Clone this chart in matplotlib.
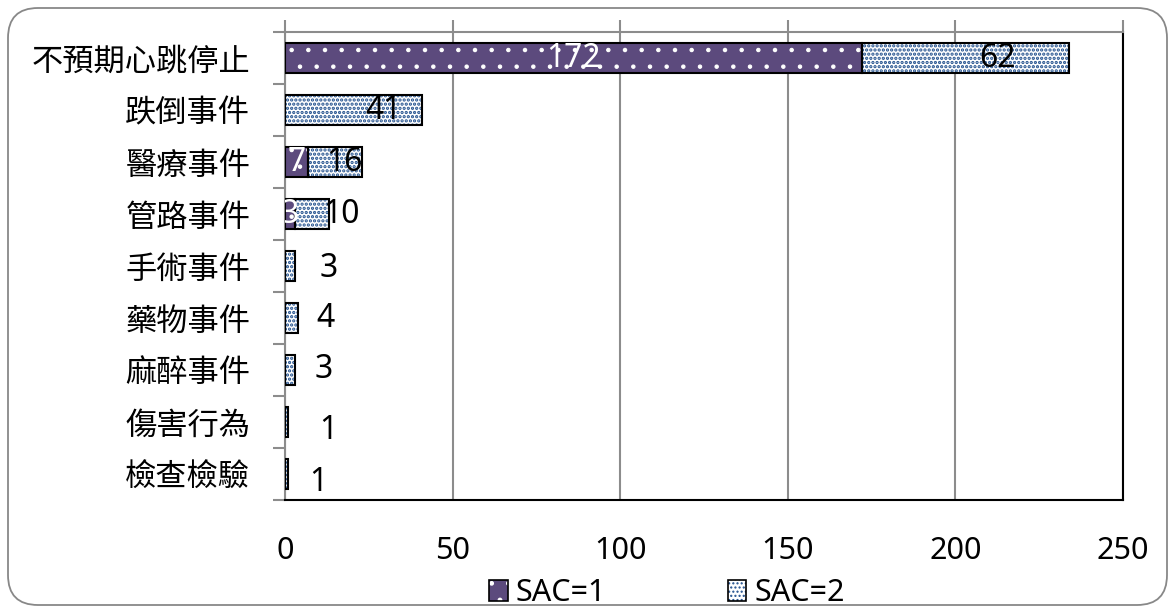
import matplotlib
matplotlib.use("Agg")
import matplotlib.pyplot as plt
from matplotlib.patches import FancyBboxPatch, Patch
from matplotlib.legend_handler import HandlerTuple
import numpy as np

plt.rcParams['font.family'] = ['Noto Sans', 'Noto Sans CJK TC', 'DejaVu Sans']

categories = ['不預期心跳停止', '跌倒事件', '醫療事件', '管路事件', '手術事件',
              '藥物事件', '麻醉事件', '傷害行為', '檢查檢驗']
sac1 = [172, 0, 7, 3, 0, 0, 0, 0, 0]
sac2 = [62, 41, 16, 10, 3, 4, 3, 1, 1]
series_names = ['SAC=1', 'SAC=2']
xticks = [0, 50, 100, 150, 200, 250]

# style: label offsets in points (dx, dy)
off1 = [(0, 0)] * 9
off2 = [(23, 0), (21.6, 0), (6.5, 0), (21.6, 0), (28, -2), (24, 0), (24, 0), (30, -5.8), (23, -5.8)]

purple = '#5C4A7D'
blue = '#1F4E8C'
gray = '#8C8C8C'
numfont = ['Noto Sans', 'DejaVu Sans']
cjkfont = ['Noto Sans CJK TC', 'DejaVu Sans']

fig = plt.figure(figsize=(11.75, 6.13), dpi=100)
W, H = 1175, 613
ax = fig.add_axes([285 / W, 1 - 500 / H, (1123 - 285) / W, (500 - 32) / H])

y = np.arange(len(categories))
h = 0.58
a1 = np.array(sac1)
a2 = np.array(sac2)

with plt.rc_context({'hatch.linewidth': 0.8}):
    ax.barh(y, a1, height=h, color=purple, edgecolor='white', hatch='.', linewidth=0, zorder=3)
    hp1 = Patch(facecolor=purple, edgecolor='white', hatch='.', linewidth=0)
ax.barh(y, a1, height=h, fill=False, edgecolor='black', linewidth=1.5, zorder=4)
with plt.rc_context({'hatch.linewidth': 1.6}):
    ax.barh(y, a2, left=a1, height=h, color='white', edgecolor=blue, hatch='....', linewidth=0, zorder=3)
    hp2 = Patch(facecolor='white', edgecolor=blue, hatch='....', linewidth=0)
ax.barh(y, a2, left=a1, height=h, fill=False, edgecolor='black', linewidth=1.5, zorder=4)

for i in range(len(categories)):
    if a1[i] > 0:
        ax.annotate(str(a1[i]), (a1[i] / 2, y[i]), xytext=off1[i], textcoords='offset points',
                    ha='center', va='center', color='white', fontsize=23, family=numfont,
                    zorder=6, clip_on=True)
    if a2[i] > 0:
        ax.annotate(str(a2[i]), (a1[i] + a2[i] / 2, y[i]), xytext=off2[i], textcoords='offset points',
                    ha='center', va='center', color='black', fontsize=23, family=numfont, zorder=6)

ax.set_xlim(0, 250)
ax.set_ylim(len(categories) - 0.5, -0.5)
ax.set_xticks(xticks)
ax.set_xticklabels([str(t) for t in xticks], family=numfont)
ax.set_yticks(y)
ax.set_yticklabels(categories, family=cjkfont)
ax.set_yticks(np.arange(-0.5, len(categories), 1.0), minor=True)

ax.tick_params(axis='y', which='major', length=0, pad=25, labelsize=22.5)
ax.tick_params(axis='y', which='minor', length=8.6, width=1.5, color=gray, left=True)
ax.tick_params(axis='x', which='major', bottom=False, top=True, labelbottom=True, labeltop=False,
               length=8.6, width=1.5, color=gray, pad=17, labelsize=22)

ax.xaxis.grid(True, color=gray, linewidth=1.5, zorder=0)
ax.set_axisbelow(True)
for s in ['left', 'top']:
    ax.spines[s].set_color(gray)
    ax.spines[s].set_linewidth(1.5)
for s in ['right', 'bottom']:
    ax.spines[s].set_color('black')
    ax.spines[s].set_linewidth(1.5)

h1 = (hp1, Patch(fill=False, edgecolor='black', linewidth=1.2))
h2 = (hp2, Patch(fill=False, edgecolor='black', linewidth=1.2))
fig.legend([h1, h2], series_names, handler_map={tuple: HandlerTuple(ndivide=1, pad=0)},
           loc='center', bbox_to_anchor=(667 / W, 1 - 593 / H), ncol=2, frameon=False,
           prop={'family': numfont, 'size': 22}, handlelength=0.6, handleheight=0.7,
           handletextpad=0.25, columnspacing=4.0)

border = FancyBboxPatch((0.08, 0.08), 11.59, 5.97,
                        boxstyle='round,pad=0,rounding_size=0.3',
                        transform=fig.dpi_scale_trans, fill=False,
                        edgecolor='#888888', linewidth=1.3)
fig.add_artist(border)

fig.savefig('out.png', dpi=100)
